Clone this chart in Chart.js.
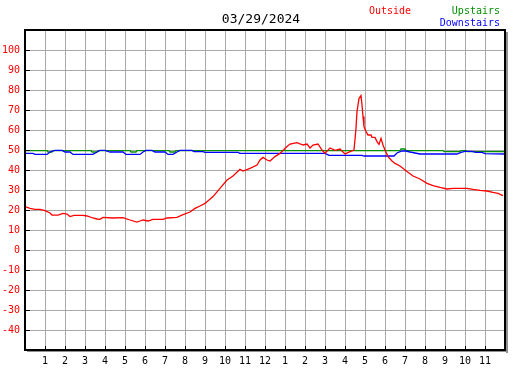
<!DOCTYPE html>
<html>
<head>
<meta charset="utf-8">
<script src="https://cdn.jsdelivr.net/npm/chart.js@4"></script>
<style>
  html, body { margin: 0; padding: 0; background: #fff; }
  canvas { display: block; }
</style>
</head>
<body>
<canvas id="chart" width="527" height="370"></canvas>
<script>
const title = '03/29/2024';

// x tick labels for hours 0..24 (12h clock, ends left blank)
const hourLabels = ['', '1', '2', '3', '4', '5', '6', '7', '8', '9', '10', '11', '12',
  '1', '2', '3', '4', '5', '6', '7', '8', '9', '10', '11', ''];

// Outside (red), hours of day and temperature
const outsideHours = [0, 0.25, 0.5, 0.75, 1, 1.25, 1.35, 1.65, 1.9, 2.1, 2.25, 2.45, 2.9, 3.1, 3.4, 3.6,
  3.75, 3.9, 4.4, 4.9, 5.25, 5.6, 5.75, 5.9, 6.15, 6.4, 6.9, 7.1, 7.6, 7.9, 8.25, 8.5, 8.75, 9, 9.4,
  9.75, 10.1, 10.4, 10.75, 10.9, 11.25, 11.6, 11.75, 11.9, 12.1, 12.25, 12.5, 12.75, 13.1, 13.25,
  13.6, 13.9, 14.1, 14.25, 14.4, 14.65, 14.85, 15, 15.25, 15.5, 15.75, 16, 16.25, 16.45, 16.55,
  16.6, 16.65, 16.7, 16.8, 16.85, 16.9, 16.95, 17.05, 17.15, 17.3, 17.35, 17.5, 17.6, 17.7, 17.8,
  17.9, 18, 18.15, 18.35, 18.5, 18.75, 19.1, 19.4, 19.75, 20.1, 20.4, 20.75, 21.1, 21.4, 22.1,
  22.4, 22.75, 23.1, 23.4, 23.65, 23.9];
const outsideTemps = [21.7, 20.8, 20.3, 20.3, 19.7, 18.5, 17.5, 17.4, 18.3, 18.0, 16.7, 17.3, 17.3, 17.0, 16.0, 15.5,
  15.3, 16.3, 16.0, 16.2, 15.0, 14.0, 14.5, 15.0, 14.5, 15.3, 15.3, 16.0, 16.3, 17.7, 19.0, 20.8, 22.0, 23.3, 26.7,
  30.8, 35.0, 37.0, 40.3, 39.5, 40.8, 42.5, 45.0, 46.3, 45.0, 44.5, 46.7, 48.3, 51.7, 53.0,
  53.7, 52.5, 53.0, 51.0, 52.5, 53.0, 50.0, 48.3, 51.0, 49.8, 50.5, 48.0, 49.2, 50.0, 60.8,
  69.2, 72.5, 75.8, 77.2, 72.5, 66.7, 61.7, 59.2, 57.5, 57.5, 56.3, 56.3, 54.2, 52.8, 55.8,
  52.5, 50.0, 46.7, 44.5, 43.3, 42.0, 39.2, 37.0, 35.5, 33.3, 32.2, 31.3, 30.5, 30.8, 30.8,
  30.3, 29.8, 29.5, 28.8, 28.3, 27.2];

// Upstairs (green)
const upstairsHours = [0, 1.1, 1.15, 1.35, 1.4, 3.3, 3.35, 3.6, 3.65, 5.25, 5.3, 5.55, 5.6, 7.2, 7.25,
  7.5, 7.55, 18.75, 18.8, 19, 19.05, 20.9, 20.95, 21.75, 21.8, 22.05, 22.1, 24];
const upstairsTemps = [49.7, 49.7, 49.0, 49.0, 49.7, 49.7, 49.0, 49.0, 49.7, 49.7, 49.0, 49.0, 49.7, 49.7, 49.0,
  49.0, 49.7, 49.7, 50.5, 50.5, 49.7, 49.7, 49.2, 49.2, 49.7, 49.7, 49.2, 49.2];

// Downstairs (blue)
const downstairsHours = [0, 0.4, 0.5, 1.1, 1.25, 1.5, 1.85, 2, 2.25, 2.4, 3.4, 3.6, 3.75, 4, 4.25, 4.9,
  5.05, 5.75, 5.9, 6.05, 6.35, 6.5, 7, 7.15, 7.4, 7.6, 7.75, 8.35, 8.45, 8.9, 9, 10.65, 10.75, 15,
  15.1, 15.2, 16.85, 16.95, 18.45, 18.6, 18.85, 19.05, 19.25, 19.5, 19.75, 21.6, 21.8, 22, 22.35,
  22.55, 22.85, 23, 24];
const downstairsTemps = [48.3, 48.3, 47.8, 47.8, 49.0, 49.8, 49.8, 49.0, 49.0, 47.8, 47.8, 49.0, 49.8, 49.8, 49.0, 49.0,
  47.8, 47.8, 49.0, 49.8, 49.8, 49.0, 49.0, 47.8, 47.8, 49.0, 49.8, 49.8, 49.2, 49.2, 48.8, 48.8, 48.3, 48.3,
  47.8, 47.3, 47.3, 47.0, 47.0, 48.5, 49.5, 49.5, 49.0, 48.5, 48.0, 48.0, 48.8, 49.3, 49.3,
  48.8, 48.8, 48.2, 48.0];

const RED = '#ff0000';
const GREEN = '#009000';
const BLUE = '#0000ff';
const MONO = '"DejaVu Sans Mono", monospace';

const toPoints = (xs, ys) => xs.map((x, i) => ({ x: x, y: ys[i] }));

// frame, inward ticks, title and legend texts
const framePlugin = {
  id: 'frame',
  beforeDraw(chart) {
    const { ctx, chartArea: a } = chart;
    ctx.save();
    ctx.fillStyle = '#fff';
    ctx.fillRect(0, 0, chart.width, chart.height);
    ctx.fillStyle = '#909090';
    ctx.fillRect(a.right + 1, a.top + 2, 2, a.bottom - a.top + 1);
    ctx.fillRect(a.left + 2, a.bottom + 1, a.right - a.left + 1, 1);
    ctx.restore();
  },
  afterDatasetsDraw(chart) {
    const { ctx, chartArea: a } = chart;
    const xs = chart.scales.x, ys = chart.scales.y;
    ctx.save();
    ctx.strokeStyle = '#000';
    ctx.lineWidth = 1;
    ctx.beginPath();
    ys.ticks.forEach(t => {
      if (t.value <= ys.min || t.value >= ys.max) return;
      const py = Math.round(ys.getPixelForValue(t.value)) + 0.5;
      ctx.moveTo(a.left, py);
      ctx.lineTo(a.left + 5, py);
    });
    xs.ticks.forEach(t => {
      if (t.value <= xs.min || t.value >= xs.max) return;
      const px = Math.round(xs.getPixelForValue(t.value)) + 0.5;
      ctx.moveTo(px, a.bottom);
      ctx.lineTo(px, a.bottom - 4);
    });
    ctx.stroke();
    ctx.lineWidth = 2;
    ctx.strokeRect(a.left, a.top, a.right - a.left, a.bottom - a.top);

    ctx.textBaseline = 'middle';
    ctx.font = '13px ' + MONO;
    ctx.fillStyle = '#000';
    ctx.textAlign = 'center';
    ctx.fillText(title, 261, 20);

    ctx.font = '10px ' + MONO;
    ctx.textAlign = 'left';
    ctx.fillStyle = RED;
    ctx.fillText('Outside', 369, 11);
    ctx.textAlign = 'right';
    ctx.fillStyle = GREEN;
    ctx.fillText('Upstairs', 500, 11);
    ctx.fillStyle = BLUE;
    ctx.fillText('Downstairs', 500, 23);
    ctx.restore();
  },
};

const cfg = {
  type: 'line',
  data: {
    datasets: [
      { label: 'Outside', data: toPoints(outsideHours, outsideTemps), borderColor: RED, order: 0 },
      { label: 'Downstairs', data: toPoints(downstairsHours, downstairsTemps), borderColor: BLUE, order: 1 },
      { label: 'Upstairs', data: toPoints(upstairsHours, upstairsTemps), borderColor: GREEN, order: 2 },
    ],
  },
  options: {
    responsive: false,
    animation: false,
    events: [],
    layout: { padding: { top: 30, right: 22, left: 0, bottom: 0 } },
    elements: {
      line: { borderWidth: 1.3, tension: 0 },
      point: { radius: 0 },
    },
    plugins: {
      legend: { display: false },
      title: { display: false },
      tooltip: { enabled: false },
    },
    scales: {
      x: {
        type: 'linear',
        min: 0, max: 24,
        afterFit: s => { s.height = 20; },
        border: { display: false },
        grid: { color: '#a8a8a8', lineWidth: 1, drawTicks: false },
        ticks: {
          stepSize: 1,
          autoSkip: false,
          maxRotation: 0,
          padding: 5,
          color: '#000',
          font: { family: MONO, size: 10 },
          callback: v => hourLabels[v] || '',
        },
      },
      y: {
        min: -50, max: 110,
        afterFit: s => { s.width = 25; },
        border: { display: false },
        grid: { color: '#a8a8a8', lineWidth: 1, drawTicks: false },
        ticks: {
          stepSize: 10,
          padding: 5,
          color: RED,
          font: { family: MONO, size: 10 },
          callback: v => (v <= -50 || v >= 110) ? '' : String(v),
        },
      },
    },
  },
  plugins: [framePlugin],
};

new Chart(document.getElementById('chart'), cfg);
</script>
</body>
</html>
